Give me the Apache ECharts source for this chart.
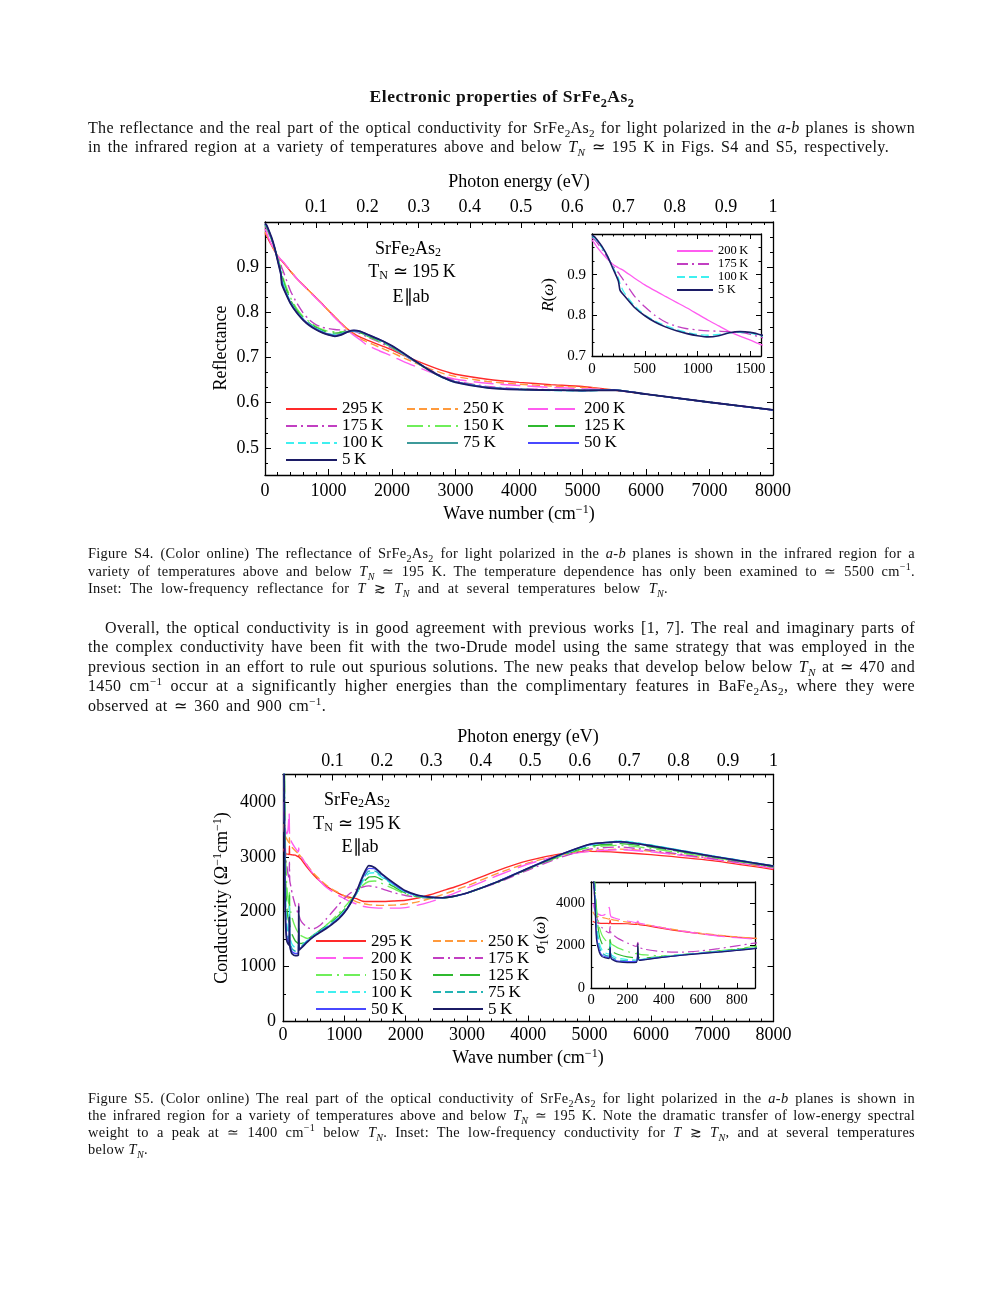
<!DOCTYPE html>
<html><head><meta charset="utf-8">
<script src="https://cdn.jsdelivr.net/npm/echarts@6/dist/echarts.min.js"></script>
<style>
html,body{margin:0;padding:0;background:#fff;}
#chart{position:absolute;left:0;top:0;width:997px;height:1290px;}
.t{position:absolute;font-family:"Liberation Serif",serif;color:#111;overflow:hidden;z-index:2;}
.j{text-align:justify;text-align-last:justify;}
.b{font-size:16px;line-height:20px;height:20px;letter-spacing:0.35px;}
.c{font-size:14.4px;line-height:18px;height:18px;letter-spacing:0.3px;}
.h{font-size:17.5px;line-height:22px;height:22px;font-weight:bold;text-align:center;letter-spacing:0.5px;}
sub,sup{font-size:70%;line-height:0;}
</style></head>
<body>
<div id="chart"></div>
<div class="t h" style="left:250px;width:504px;top:85px;">Electronic properties of SrFe<sub>2</sub>As<sub>2</sub></div>
<div class="t b j" style="left:88px;width:827px;top:118px;">The reflectance and the real part of the optical conductivity for SrFe<sub>2</sub>As<sub>2</sub> for light polarized in the <i>a</i>-<i>b</i> planes is shown</div>
<div class="t b j" style="left:88px;width:801px;top:137px;">in the infrared region at a variety of temperatures above and below <i>T<sub>N</sub></i> &#8771; 195 K in Figs. S4 and S5, respectively.</div>

<div class="t c j" style="left:88px;width:827px;top:544px;">Figure S4. (Color online) The reflectance of SrFe<sub>2</sub>As<sub>2</sub> for light polarized in the <i>a</i>-<i>b</i> planes is shown in the infrared region for a</div>
<div class="t c j" style="left:88px;width:827px;top:562px;">variety of temperatures above and below <i>T<sub>N</sub></i> &#8771; 195 K. The temperature dependence has only been examined to &#8771; 5500 cm<sup>&minus;1</sup>.</div>
<div class="t c j" style="left:88px;width:580px;top:579px;">Inset: The low-frequency reflectance for <i>T</i> &#8819; <i>T<sub>N</sub></i> and at several temperatures below <i>T<sub>N</sub></i>.</div>

<div class="t b j" style="left:105px;width:810px;top:618px;">Overall, the optical conductivity is in good agreement with previous works [1, 7]. The real and imaginary parts of</div>
<div class="t b j" style="left:88px;width:827px;top:637px;">the complex conductivity have been fit with the two-Drude model using the same strategy that was employed in the</div>
<div class="t b j" style="left:88px;width:827px;top:657px;">previous section in an effort to rule out spurious solutions. The new peaks that develop below below <i>T<sub>N</sub></i> at &#8771; 470 and</div>
<div class="t b j" style="left:88px;width:827px;top:676px;">1450 cm<sup>&minus;1</sup> occur at a significantly higher energies than the complimentary features in BaFe<sub>2</sub>As<sub>2</sub>, where they were</div>
<div class="t b j" style="left:88px;width:238px;top:696px;">observed at &#8771; 360 and 900 cm<sup>&minus;1</sup>.</div>

<div class="t c j" style="left:88px;width:827px;top:1089px;">Figure S5. (Color online) The real part of the optical conductivity of SrFe<sub>2</sub>As<sub>2</sub> for light polarized in the <i>a</i>-<i>b</i> planes is shown in</div>
<div class="t c j" style="left:88px;width:827px;top:1106px;">the infrared region for a variety of temperatures above and below <i>T<sub>N</sub></i> &#8771; 195 K. Note the dramatic transfer of low-energy spectral</div>
<div class="t c j" style="left:88px;width:827px;top:1123px;">weight to a peak at &#8771; 1400 cm<sup>&minus;1</sup> below <i>T<sub>N</sub></i>. Inset: The low-frequency conductivity for <i>T</i> &#8819; <i>T<sub>N</sub></i>, and at several temperatures</div>
<div class="t c" style="left:88px;width:200px;top:1140px;">below <i>T<sub>N</sub></i>.</div>

<script>
// ---------- DATA ----------
const temps = ['295', '250', '200', '175', '150', '125', '100', '75', '50', '5'];

// Figure S4: reflectance (wave number in cm^-1)
const wnR = [0, 25, 50, 100, 150, 200, 250, 265, 300, 400, 500, 600, 700, 800, 900, 1000, 1100, 1200, 1300, 1400, 1500, 1600, 1800, 2000, 2200, 2400, 2600, 2800, 3000, 3500, 4000, 4500, 5000, 5500, 6000, 7000, 8000];
const R295 = [0.975, 0.970, 0.962, 0.949, 0.936, 0.924, 0.916, 0.914, 0.908, 0.891, 0.875, 0.861, 0.847, 0.833, 0.819, 0.804, 0.790, 0.776, 0.763, 0.753, 0.745, 0.739, 0.728, 0.717, 0.704, 0.692, 0.681, 0.671, 0.663, 0.652, 0.645, 0.640, 0.636, 0.628, 0.619, 0.601, 0.584];
const R250 = [0.978, 0.972, 0.964, 0.950, 0.937, 0.925, 0.916, 0.914, 0.909, 0.892, 0.875, 0.861, 0.847, 0.833, 0.819, 0.804, 0.790, 0.776, 0.762, 0.751, 0.742, 0.735, 0.723, 0.711, 0.698, 0.686, 0.675, 0.665, 0.658, 0.647, 0.641, 0.637, 0.634, 0.628, 0.619, 0.601, 0.584];
const R200 = [0.985, 0.977, 0.967, 0.951, 0.937, 0.925, 0.917, 0.915, 0.910, 0.892, 0.875, 0.860, 0.846, 0.832, 0.818, 0.803, 0.788, 0.774, 0.760, 0.749, 0.739, 0.728, 0.715, 0.703, 0.690, 0.679, 0.668, 0.659, 0.652, 0.643, 0.638, 0.634, 0.631, 0.628, 0.619, 0.601, 0.584];
const R175 = [0.990, 0.986, 0.978, 0.960, 0.941, 0.921, 0.905, 0.899, 0.886, 0.848, 0.821, 0.799, 0.783, 0.773, 0.767, 0.764, 0.762, 0.761, 0.760, 0.758, 0.753, 0.746, 0.734, 0.720, 0.704, 0.688, 0.672, 0.658, 0.648, 0.636, 0.631, 0.629, 0.628, 0.628, 0.619, 0.601, 0.584];
const R150 = [0.992, 0.988, 0.980, 0.962, 0.943, 0.919, 0.899, 0.891, 0.870, 0.833, 0.808, 0.791, 0.779, 0.769, 0.762, 0.758, 0.757, 0.757, 0.758, 0.758, 0.755, 0.748, 0.736, 0.722, 0.705, 0.688, 0.670, 0.656, 0.646, 0.634, 0.630, 0.628, 0.627, 0.628, 0.619, 0.601, 0.584];
const R125 = [0.993, 0.989, 0.981, 0.963, 0.943, 0.918, 0.895, 0.885, 0.864, 0.828, 0.804, 0.788, 0.776, 0.767, 0.760, 0.756, 0.754, 0.755, 0.757, 0.758, 0.755, 0.749, 0.737, 0.723, 0.706, 0.688, 0.670, 0.656, 0.646, 0.634, 0.630, 0.628, 0.627, 0.628, 0.619, 0.601, 0.584];
const R100 = [0.994, 0.990, 0.982, 0.964, 0.943, 0.917, 0.892, 0.878, 0.858, 0.824, 0.801, 0.786, 0.774, 0.765, 0.758, 0.753, 0.751, 0.753, 0.757, 0.758, 0.756, 0.750, 0.738, 0.724, 0.706, 0.688, 0.670, 0.655, 0.645, 0.633, 0.629, 0.627, 0.626, 0.628, 0.619, 0.601, 0.584];
const R75 = [0.995, 0.991, 0.983, 0.965, 0.943, 0.916, 0.888, 0.870, 0.854, 0.822, 0.800, 0.785, 0.773, 0.764, 0.757, 0.752, 0.749, 0.752, 0.757, 0.759, 0.757, 0.751, 0.739, 0.725, 0.707, 0.689, 0.671, 0.656, 0.646, 0.634, 0.630, 0.628, 0.627, 0.628, 0.619, 0.601, 0.584];
const R50 = [0.996, 0.992, 0.984, 0.966, 0.943, 0.915, 0.886, 0.866, 0.852, 0.821, 0.800, 0.784, 0.772, 0.763, 0.756, 0.751, 0.748, 0.751, 0.757, 0.760, 0.758, 0.752, 0.740, 0.725, 0.707, 0.689, 0.671, 0.656, 0.646, 0.634, 0.630, 0.628, 0.627, 0.628, 0.619, 0.601, 0.584];
const R5 = [0.997, 0.993, 0.985, 0.967, 0.944, 0.914, 0.884, 0.862, 0.850, 0.820, 0.799, 0.783, 0.771, 0.762, 0.755, 0.750, 0.747, 0.750, 0.757, 0.760, 0.758, 0.752, 0.740, 0.726, 0.708, 0.689, 0.671, 0.656, 0.645, 0.633, 0.629, 0.628, 0.627, 0.628, 0.619, 0.601, 0.584];

// Figure S5: conductivity (Ohm^-1 cm^-1)
const wnS = [10, 20, 30, 45, 60, 80, 100, 105, 110, 130, 150, 200, 250, 257, 264, 300, 400, 500, 600, 700, 800, 900, 1000, 1100, 1200, 1300, 1400, 1500, 1600, 1800, 2000, 2200, 2400, 2600, 2800, 3000, 3500, 4000, 4500, 5000, 5500, 6000, 7000, 8000];
const S295 = [3150, 3100, 3080, 3060, 3050, 3050, 3040, 3200, 3040, 3040, 3035, 3030, 3000, 3020, 2990, 2950, 2800, 2670, 2560, 2470, 2400, 2340, 2290, 2260, 2240, 2190, 2185, 2185, 2185, 2195, 2210, 2250, 2310, 2380, 2450, 2530, 2750, 2930, 3050, 3100, 3080, 3040, 2930, 2770];
const S250 = [3600, 3450, 3400, 3360, 3330, 3290, 3250, 3350, 3240, 3200, 3170, 3110, 3060, 3080, 3040, 2990, 2840, 2700, 2590, 2490, 2410, 2350, 2290, 2230, 2180, 2150, 2130, 2120, 2115, 2120, 2140, 2180, 2240, 2310, 2390, 2470, 2700, 2890, 3030, 3110, 3140, 3100, 2960, 2790];
const S200 = [4000, 3700, 3560, 3460, 3420, 3480, 3800, 3500, 3360, 3300, 3250, 3160, 3090, 3160, 3060, 3000, 2830, 2680, 2560, 2450, 2370, 2300, 2240, 2180, 2140, 2100, 2080, 2070, 2065, 2065, 2075, 2120, 2180, 2250, 2340, 2430, 2660, 2870, 3020, 3100, 3130, 3090, 2960, 2790];
const S175 = [5500, 4200, 3400, 3000, 2850, 2700, 2600, 2900, 2570, 2450, 2330, 2120, 1960, 2150, 1920, 1820, 1710, 1690, 1750, 1860, 1990, 2120, 2240, 2340, 2410, 2450, 2470, 2455, 2420, 2350, 2295, 2265, 2250, 2255, 2285, 2340, 2530, 2760, 2980, 3140, 3180, 3120, 2970, 2810];
const S150 = [5500, 5000, 3800, 2900, 2500, 2250, 2120, 2350, 2100, 1980, 1880, 1720, 1620, 1700, 1600, 1560, 1515, 1560, 1650, 1750, 1850, 1960, 2080, 2210, 2350, 2480, 2550, 2560, 2520, 2420, 2320, 2270, 2250, 2250, 2280, 2335, 2540, 2780, 3000, 3170, 3210, 3150, 2990, 2815];
const S125 = [5500, 5000, 3500, 2500, 2100, 1900, 1800, 2300, 1780, 1650, 1580, 1470, 1420, 1950, 1430, 1420, 1490, 1580, 1660, 1740, 1820, 1920, 2040, 2180, 2340, 2520, 2630, 2640, 2590, 2460, 2340, 2280, 2255, 2252, 2282, 2338, 2545, 2785, 3010, 3190, 3240, 3180, 3000, 2820];
const S100 = [5500, 4800, 3100, 2150, 1800, 1650, 1600, 2100, 1580, 1460, 1400, 1340, 1320, 1500, 1340, 1380, 1480, 1570, 1650, 1720, 1800, 1890, 2010, 2160, 2330, 2550, 2700, 2710, 2640, 2490, 2355, 2285, 2258, 2254, 2284, 2340, 2548, 2790, 3020, 3210, 3290, 3215, 3020, 2835];
const S75 = [5500, 4600, 2800, 1950, 1650, 1540, 1500, 1950, 1490, 1380, 1320, 1280, 1270, 1500, 1330, 1370, 1470, 1560, 1640, 1710, 1790, 1880, 2000, 2150, 2340, 2580, 2740, 2740, 2660, 2500, 2360, 2290, 2262, 2255, 2285, 2340, 2548, 2792, 3025, 3220, 3280, 3210, 3015, 2835];
const S50 = [5500, 4400, 2500, 1800, 1550, 1470, 1430, 1900, 1420, 1320, 1270, 1240, 1240, 1700, 1320, 1350, 1460, 1550, 1630, 1700, 1780, 1870, 1990, 2150, 2360, 2620, 2790, 2780, 2690, 2510, 2370, 2295, 2263, 2255, 2285, 2340, 2550, 2795, 3030, 3225, 3270, 3200, 3010, 2830];
const S5 = [5500, 4300, 2300, 1700, 1480, 1420, 1390, 1900, 1390, 1280, 1230, 1200, 1210, 2100, 1300, 1340, 1450, 1545, 1620, 1690, 1770, 1860, 1980, 2150, 2370, 2650, 2840, 2800, 2700, 2530, 2380, 2300, 2265, 2255, 2285, 2340, 2545, 2790, 3030, 3230, 3275, 3200, 3010, 2830];

const evPerCm = 1 / 8065.54;

// ---------- STYLE ----------
const F = 'Liberation Serif';
const COL = {'295':'#ff2a2a','250':'#ff9a3c','200':'#ff5cf0','175':'#c23fc2','150':'#6fee5a','125':'#2fb92f','100':'#3ff0f0','75':'#3d9a9a','50':'#4848ff','5':'#1c1c66'};
const COL75b = '#22b4b4';
const D = {solid:'solid', dashed:[8,4], longdash:[20,7], dashdot:[11,4,2,4], longdashdot:[16,5,2,5]};
const S4type = {'295':'solid','250':'dashed','200':'longdash','175':'dashdot','150':'longdashdot','125':'longdash','100':'dashed','75':'solid','50':'solid','5':'solid'};
const S5type = {'295':'solid','250':'dashed','200':'longdash','175':'dashdot','150':'longdashdot','125':'longdash','100':'dashed','75':'dashed','50':'solid','5':'solid'};
const Rmap = {'295':R295,'250':R250,'200':R200,'175':R175,'150':R150,'125':R125,'100':R100,'75':R75,'50':R50,'5':R5};
const Smap = {'295':S295,'250':S250,'200':S200,'175':S175,'150':S150,'125':S125,'100':S100,'75':S75,'50':S50,'5':S5};

function line(name, xi, yi, xs, ys, color, type, width) {
  return {type:'line', name, xAxisIndex:xi, yAxisIndex:yi,
    data: xs.map((x, i) => [x, ys[i]]),
    symbol:'none', symbolSize:0, showSymbol:false, smooth:0.2, clip:true, silent:true, animation:false,
    emphasis:{disabled:true},
    lineStyle:{color, type:D[type], width}, itemStyle:{color}};
}
const series = [];
temps.forEach(t => series.push(line('S4 ' + t, 0, 0, wnR, Rmap[t], COL[t], S4type[t], t === '5' ? 1.8 : 1.4)));
const insetR = {'200':'solid','175':'dashdot','100':'dashed','5':'solid'};
['200','175','100','5'].forEach(t => series.push(line('S4i ' + t, 2, 2, wnR, Rmap[t], COL[t], insetR[t], t === '5' ? 1.6 : 1.3)));
temps.forEach(t => series.push(line('S5 ' + t, 4, 4, wnS, Smap[t], t === '75' ? COL75b : COL[t], S5type[t], t === '5' ? 1.7 : 1.4)));
temps.forEach(t => series.push(line('S5i ' + t, 6, 6, wnS, Smap[t], t === '75' ? COL75b : COL[t], S5type[t], 1.2)));

// ---------- AXES ----------
const AL = {show:true, onZero:false, lineStyle:{color:'#000', width:1.3}};
const TK = len => ({show:true, inside:true, length:len, lineStyle:{color:'#000', width:1}});
const MT = (n, len) => ({show:true, splitNumber:n, length:len, lineStyle:{color:'#000', width:1}});
const NO = {show:false};
const intFmt = v => String(Math.round(v));
function lab(size, margin, extra) { return Object.assign({show:true, color:'#000', fontFamily:F, fontSize:size, margin, formatter:intFmt}, extra || {}); }
const evFmt = v => (v < 0.05 ? '' : (v > 0.95 ? '1' : v.toFixed(1)));
function vax(o) { return Object.assign({type:'value', axisLine:AL, splitLine:NO, minorSplitLine:NO, axisLabel:NO}, o); }

const xAxis = [
  vax({gridIndex:0, position:'bottom', min:0, max:8000, interval:1000, axisTick:TK(6), minorTick:MT(5,3), axisLabel:lab(18,7,{showMinLabel:true, showMaxLabel:true})}),
  vax({gridIndex:0, position:'top', min:0, max:8000 * evPerCm, interval:0.1, axisTick:TK(6), minorTick:MT(4,3), axisLabel:lab(18,6,{formatter:evFmt, showMinLabel:false, showMaxLabel:true})}),
  vax({gridIndex:1, position:'bottom', min:0, max:1600, interval:500, axisTick:TK(5), minorTick:MT(5,2.5), axisLabel:lab(15,6,{showMinLabel:true, showMaxLabel:false})}),
  vax({gridIndex:1, position:'top', min:0, max:1600, interval:500, axisTick:TK(5), minorTick:MT(5,2.5)}),
  vax({gridIndex:2, position:'bottom', min:0, max:8000, interval:1000, axisTick:TK(6), minorTick:MT(5,3), axisLabel:lab(18,5,{showMinLabel:true, showMaxLabel:true})}),
  vax({gridIndex:2, position:'top', min:0, max:8000 * evPerCm, interval:0.1, axisTick:TK(6), minorTick:MT(4,3), axisLabel:lab(18,4,{formatter:evFmt, showMinLabel:false, showMaxLabel:true})}),
  vax({gridIndex:3, position:'bottom', min:0, max:900, interval:200, axisTick:TK(5), minorTick:MT(2,2.5), axisLabel:lab(14.5,5,{showMinLabel:true, showMaxLabel:false})}),
  vax({gridIndex:3, position:'top', min:0, max:900, interval:200, axisTick:TK(5), minorTick:MT(2,2.5)})
];
const yFmt = v => v.toFixed(1);
const yAxis = [
  vax({gridIndex:0, position:'left', min:0.44, max:1.0, splitNumber:5, axisTick:TK(6), minorTick:MT(3,3), axisLabel:lab(18,6,{formatter:yFmt, showMinLabel:false, showMaxLabel:false})}),
  vax({gridIndex:0, position:'right', min:0.44, max:1.0, splitNumber:5, axisTick:TK(6), minorTick:MT(3,3)}),
  vax({gridIndex:1, position:'left', min:0.7, max:1.0, interval:0.1, axisTick:TK(5), minorTick:MT(3,2.5), axisLabel:lab(15,6,{formatter:yFmt, showMinLabel:true, showMaxLabel:false})}),
  vax({gridIndex:1, position:'right', min:0.7, max:1.0, interval:0.1, axisTick:TK(5), minorTick:MT(3,2.5)}),
  vax({gridIndex:2, position:'left', min:0, max:4500, interval:1000, axisTick:TK(6), minorTick:MT(2,3), axisLabel:lab(18,7,{showMinLabel:true, showMaxLabel:false})}),
  vax({gridIndex:2, position:'right', min:0, max:4500, interval:1000, axisTick:TK(6), minorTick:MT(2,3)}),
  vax({gridIndex:3, position:'left', min:0, max:5000, interval:2000, axisTick:TK(5), minorTick:MT(2,2.5), axisLabel:lab(14.5,6,{showMinLabel:true, showMaxLabel:false})}),
  vax({gridIndex:3, position:'right', min:0, max:5000, interval:2000, axisTick:TK(5), minorTick:MT(2,2.5)})
];

const grid = [
  {left:265, top:222, width:508, height:253, outerBoundsMode:'none'},
  {left:592, top:234, width:169, height:122, outerBoundsMode:'none', show:true, backgroundColor:'#fff', borderWidth:0},
  {left:283, top:774.5, width:490.5, height:247, outerBoundsMode:'none'},
  {left:591, top:882, width:164, height:106, outerBoundsMode:'none', show:true, backgroundColor:'#fff', borderWidth:0}
];

// ---------- LEGENDS ----------
const fmtName = n => n.split(' ')[1] + '\u2009K';
function legend(left, top, names, w, fs, lh) {
  return {orient:'vertical', left, top, padding:0, itemGap:0, itemWidth:w, itemHeight:2,
    selectedMode:false, data:names, formatter:fmtName,
    itemStyle:{opacity:0, borderWidth:0},
    textStyle:{fontFamily:F, fontSize:fs, lineHeight:lh, color:'#000', padding:0}};
}
const legends = [
  legend(285, 400.5, ['S4 295','S4 175','S4 100','S4 5'], 51, 17, 17),
  legend(406, 400.5, ['S4 250','S4 150','S4 75'], 51, 17, 17),
  legend(527, 400.5, ['S4 200','S4 125','S4 50'], 51, 17, 17),
  legend(676, 244.5, ['S4i 200','S4i 175','S4i 100','S4i 5'], 36, 12.5, 11.7),
  legend(315, 932.6, ['S5 295','S5 200','S5 150','S5 100','S5 50'], 50, 17, 16.75),
  legend(432, 932.6, ['S5 250','S5 175','S5 125','S5 75','S5 5'], 50, 17, 16.75)
];

// ---------- TEXT ----------
const RICH = {
  sub:{fontFamily:F, fontSize:12, lineHeight:8, verticalAlign:'bottom', fill:'#000'},
  sup:{fontFamily:F, fontSize:12, lineHeight:6, verticalAlign:'top', fill:'#000'},
  iti:{fontFamily:F, fontSize:17, fontStyle:'italic', fill:'#000'}
};
function txt(x, y, text, size, rot) {
  return {type:'text', x, y, rotation: rot ? Math.PI / 2 : 0, silent:true, z:50,
    style:{text, fontFamily:F, fontSize:size, lineHeight:20, fill:'#000', textAlign:'center', textVerticalAlign:'middle', rich:RICH}};
}
const graphic = [
  txt(519, 182, 'Photon energy (eV)', 18),
  txt(519, 514, 'Wave number (cm{sup|\u22121})', 18),
  txt(221, 348, 'Reflectance', 18, true),
  txt(408, 249, 'SrFe{sub|2}As{sub|2}', 18),
  txt(412, 272, 'T{sub|N} \u2243 195\u2009K', 18),
  txt(411, 297, 'E\u2225ab', 18),
  txt(549, 295, '{iti|R}({iti|\u03c9})', 17, true),
  txt(528, 737, 'Photon energy (eV)', 18),
  txt(528, 1058, 'Wave number (cm{sup|\u22121})', 18),
  txt(222, 898, 'Conductivity (\u03a9{sup|\u22121}cm{sup|\u22121})', 18, true),
  txt(357, 800, 'SrFe{sub|2}As{sub|2}', 18),
  txt(357, 824, 'T{sub|N} \u2243 195\u2009K', 18),
  txt(360, 847, 'E\u2225ab', 18),
  txt(541, 935, '{iti|\u03c3}{sub|1}({iti|\u03c9})', 17, true)
];

const chart = echarts.init(document.getElementById('chart'), null, {renderer:'canvas'});
chart.setOption({
  animation:false, backgroundColor:'#fff',
  grid, xAxis, yAxis, legend:legends, series, graphic
});
</script>
</body></html>
